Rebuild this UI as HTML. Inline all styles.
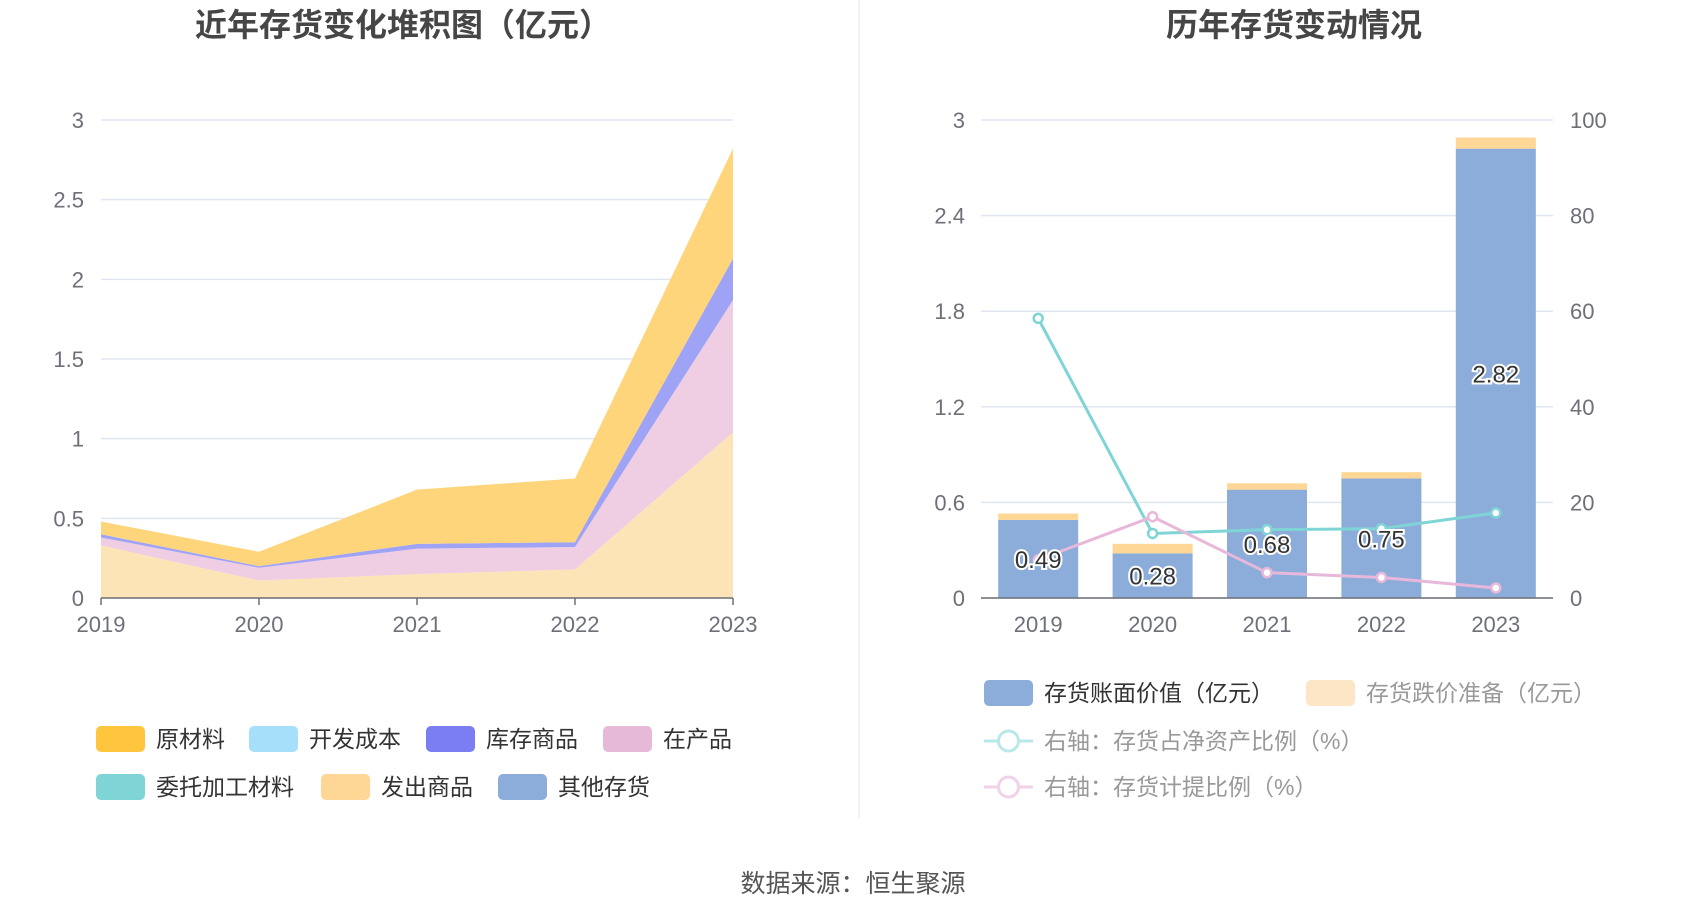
<!DOCTYPE html>
<html><head><meta charset="utf-8"><style>
body{margin:0;background:#fff;}
svg{display:block;font-family:"Liberation Sans","Noto Sans CJK SC",sans-serif;}
</style></head><body>
<svg id="c" width="1700" height="918" viewBox="0 0 1700 918">
<text x="403" y="36" text-anchor="middle" font-size="32" font-weight="bold" fill="#464646">近年存货变化堆积图（亿元）</text>
<text x="1294" y="36" text-anchor="middle" font-size="32" font-weight="bold" fill="#464646">历年存货变动情况</text>
<line x1="859" y1="0" x2="859" y2="818" stroke="#eeeeee" stroke-width="1.5"/>
<g id="left"></g>
<g id="right"></g>
<g id="legends"></g>
<text x="853" y="892" text-anchor="middle" font-size="25" fill="#555">数据来源：恒生聚源</text>
</svg>
<script>
const years=["2019","2020","2021","2022","2023"];
const shipped=[0.33,0.11,0.15,0.18,1.04];
const wip=[0.05,0.08,0.16,0.14,0.83];
const goods=[0.02,0.01,0.03,0.03,0.26];
const raw=[0.08,0.09,0.34,0.40,0.69];
const leftTicks=[0,0.5,1,1.5,2,2.5,3];
const bookValue=[0.49,0.28,0.68,0.75,2.82];
const reserve=[0.04,0.06,0.04,0.04,0.07];
const ratioNet=[58.5,13.5,14.3,14.5,17.8];
const ratioProv=[8,17,5.3,4.3,2.1];
const rightTicksL=[0,0.6,1.2,1.8,2.4,3];
const rightTicksR=[0,20,40,60,80,100];

const NS="http://www.w3.org/2000/svg";
function mk(t,a,p){const e=document.createElementNS(NS,t);for(const k in a)e.setAttribute(k,a[k]);p.appendChild(e);return e;}
const L=document.getElementById('left'),R=document.getElementById('right'),G=document.getElementById('legends');
const y0=598,y3=120;
const yL=v=>y0-(y0-y3)*v/3;
const xL=i=>101+i*(733-101)/4;
leftTicks.forEach(t=>{
  const g=mk('line',{x1:101,x2:733,y1:yL(t),y2:yL(t),stroke:'#e0e6f1','stroke-width':1.5},L);
  
  
  const tx=mk('text',{x:84,y:yL(t)+8,'text-anchor':'end','font-size':22,fill:'#6e7079'},L);tx.textContent=t;
  
  
});
const layers=[[shipped,'#fde4b6'],[wip,'#efcde3'],[goods,'#9fa3f5'],[raw,'#fed57a']];
let base=years.map(()=>0);
layers.forEach(([arr,col],li)=>{
  const top=base.map((b,i)=>b+arr[i]);
  let d='M'+years.map((_,i)=>xL(i)+','+yL(top[i])).join('L');
  d+='L'+years.map((_,i)=>xL(4-i)+','+yL(base[4-i])).join('L')+'Z';
  const p=mk('path',{d,fill:col},L);
  
  
  base=top;
});
mk('line',{x1:101,x2:733,y1:y0,y2:y0,stroke:'#6e7079','stroke-width':1.5},L);
years.forEach((y,i)=>{
  mk('line',{x1:xL(i),x2:xL(i),y1:y0,y2:y0+7,stroke:'#6e7079','stroke-width':1.5},L);
  const t=mk('text',{x:xL(i),y:y0+34,'text-anchor':'middle','font-size':22,fill:'#6e7079'},L);t.textContent=y;
  
  
});
// right chart
const xa=981,xb=1553,bw=(xb-xa)/5;
const xR=i=>xa+bw*(i+0.5);
const yRr=v=>y0-(y0-y3)*v/100;
rightTicksL.forEach((t,k)=>{
  mk('line',{x1:xa,x2:xb,y1:yL(t),y2:yL(t),stroke:'#e0e6f1','stroke-width':1.5},R);
  const a=mk('text',{x:965,y:yL(t)+8,'text-anchor':'end','font-size':22,fill:'#6e7079'},R);a.textContent=t;
  
  
});
rightTicksR.forEach(t=>{
  const b=mk('text',{x:1570,y:yRr(t)+8,'font-size':22,fill:'#6e7079'},R);b.textContent=t;
  
  
});
years.forEach((y,i)=>{
  const r1=mk('rect',{x:xR(i)-40,width:80,y:yL(bookValue[i]),height:y0-yL(bookValue[i]),fill:'#8cacda'},R);
  
  
  const top=bookValue[i]+reserve[i];
  const r2=mk('rect',{x:xR(i)-40,width:80,y:yL(top),height:yL(bookValue[i])-yL(top),fill:'#fed796'},R);
  
  
});
mk('line',{x1:xa,x2:xb,y1:y0,y2:y0,stroke:'#6e7079','stroke-width':1.5},R);
years.forEach((y,i)=>{
  const t=mk('text',{x:xR(i),y:y0+34,'text-anchor':'middle','font-size':22,fill:'#6e7079'},R);t.textContent=y;
  
  
});
[[ratioNet,'#7fd5d6'],[ratioProv,'#e7b8da']].forEach(([arr,col],k)=>{
  const pl=mk('polyline',{points:arr.map((v,i)=>xR(i)+','+yRr(v)).join(' '),fill:'none',stroke:col,'stroke-width':3},R);
  
  
  arr.forEach((v,i)=>{
    const c=mk('circle',{cx:xR(i),cy:yRr(v),r:4.5,fill:'#fff',stroke:col,'stroke-width':2.5},R);
    
    
  });
});
years.forEach((y,i)=>{
  const t=mk('text',{x:xR(i),y:yL(bookValue[i]/2)+9,'text-anchor':'middle','font-size':24,fill:'#333',stroke:'#fff','stroke-width':4,'paint-order':'stroke'},R);
  t.textContent=bookValue[i].toFixed(2);
  
  
});
// legends
function legRect(x,y,col,label,textCol){
  const r=mk('rect',{x,y:y-13,width:49,height:26,rx:5,fill:col},G);
  
  
  const t=mk('text',{x:x+60,y:y+8,'font-size':23,fill:textCol||'#333'},G);t.textContent=label;
  
  
}
function legLine(x,y,col,label){
  mk('line',{x1:x,x2:x+49,y1:y,y2:y,stroke:col,'stroke-width':3},G);
  const c=mk('circle',{cx:x+24.5,cy:y,r:10,fill:'#fff',stroke:col,'stroke-width':3},G);
  
  
  const t=mk('text',{x:x+60,y:y+8,'font-size':23,fill:'#999'},G);t.textContent=label;
  
  
}
legRect(96,739,'#ffc53d','原材料');
legRect(249,739,'#a5dff9','开发成本');
legRect(426,739,'#7a7ef2','库存商品');
legRect(603,739,'#e6b9d9','在产品');
legRect(96,787,'#7fd5d6','委托加工材料');
legRect(321,787,'#fed796','发出商品');
legRect(498,787,'#8cacda','其他存货');
legRect(984,693,'#8cacda','存货账面价值（亿元）');
legRect(1306,693,'#fde6c6','存货跌价准备（亿元）','#999');
legLine(984,741,'#b8e8e8','右轴：存货占净资产比例（%）');
legLine(984,787,'#f1d2e8','右轴：存货计提比例（%）');
</script>
</body></html>
